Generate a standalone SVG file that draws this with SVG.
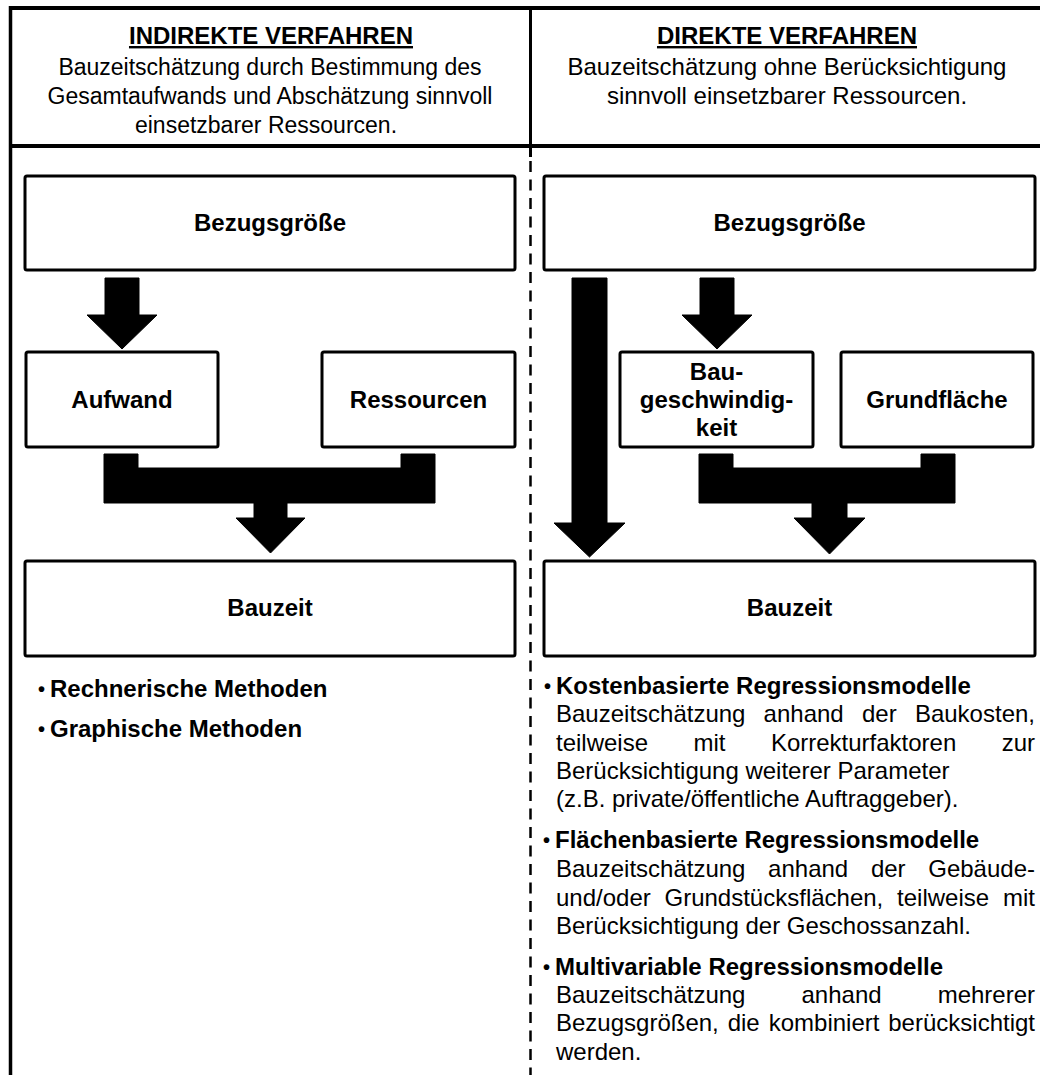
<svg xmlns="http://www.w3.org/2000/svg" width="1040" height="1075" viewBox="0 0 1040 1075">
  <style>
    text { font-family: "Liberation Sans", Arial, sans-serif; fill: #000; }
    .head { font-size: 24px; text-anchor: middle; }
    .head-s { font-size: 23px; text-anchor: middle; }
    .title { font-size: 24px; font-weight: bold; text-anchor: middle; text-decoration: underline; }
    .label { font-size: 24px; font-weight: bold; text-anchor: middle; }
    .dot { font-size: 20px; font-weight: bold; }
    .bullet { font-size: 24px; font-weight: bold; }
    .body { font-size: 24px; }
    .end { text-anchor: end; }
    .box { fill: #fff; stroke: #000; stroke-width: 3; }
    .frame { stroke: #000; fill: none; }
    .flow { fill: #000; stroke: #000; stroke-width: 1; stroke-linejoin: round; }
  </style>

  <!-- outer frame and column dividers -->
  <g id="frame">
    <line class="frame" x1="10" y1="8" x2="1040" y2="8" stroke-width="4"/>
    <line class="frame" x1="10.5" y1="6" x2="10.5" y2="1075" stroke-width="3.5"/>
    <line class="frame" x1="10" y1="146" x2="1040" y2="146" stroke-width="4"/>
    <line class="frame" x1="530.5" y1="8" x2="530.5" y2="157" stroke-width="3"/>
    <line class="frame" x1="530.5" y1="161" x2="530.5" y2="1075" stroke-width="2.5" stroke-dasharray="11 7.5"/>
  </g>

  <!-- column headers -->
  <g id="header-indirect">
    <text class="title" x="271" y="44">INDIREKTE VERFAHREN</text>
    <text class="head-s" x="270" y="75">Bauzeitschätzung durch Bestimmung des</text>
    <text class="head-s" x="270" y="104">Gesamtaufwands und Abschätzung sinnvoll</text>
    <text class="head-s" x="266" y="133">einsetzbarer Ressourcen.</text>
  </g>
  <g id="header-direct">
    <text class="title" x="787" y="44">DIREKTE VERFAHREN</text>
    <text class="head" x="787" y="75">Bauzeitschätzung ohne Berücksichtigung</text>
    <text class="head" x="787" y="104">sinnvoll einsetzbarer Ressourcen.</text>
  </g>

  <!-- left column nodes -->
  <g id="l-bezug">
    <rect class="box" x="25" y="176" width="490" height="94" rx="2"/>
    <text class="label" x="270" y="231">Bezugsgröße</text>
  </g>
  <g id="l-aufwand">
    <rect class="box" x="26" y="352" width="192" height="95" rx="2"/>
    <text class="label" x="122" y="408">Aufwand</text>
  </g>
  <g id="l-ressourcen">
    <rect class="box" x="322" y="352" width="193" height="95" rx="2"/>
    <text class="label" x="418.5" y="408">Ressourcen</text>
  </g>
  <g id="l-bauzeit">
    <rect class="box" x="25" y="561" width="490" height="95" rx="2"/>
    <text class="label" x="270" y="616">Bauzeit</text>
  </g>

  <!-- right column nodes -->
  <g id="r-bezug">
    <rect class="box" x="544" y="176" width="491" height="94" rx="2"/>
    <text class="label" x="789.5" y="231">Bezugsgröße</text>
  </g>
  <g id="r-baugeschwindigkeit">
    <rect class="box" x="620" y="352" width="193" height="95" rx="2"/>
    <text class="label" x="716.5" y="380">Bau-</text>
    <text class="label" x="716.5" y="408">geschwindig-</text>
    <text class="label" x="716.5" y="436">keit</text>
  </g>
  <g id="r-grundflaeche">
    <rect class="box" x="841" y="352" width="192" height="95" rx="2"/>
    <text class="label" x="937" y="408">Grundfläche</text>
  </g>
  <g id="r-bauzeit">
    <rect class="box" x="544" y="561" width="491" height="95" rx="2"/>
    <text class="label" x="789.5" y="616">Bauzeit</text>
  </g>

  <!-- block arrows -->
  <g id="connectors">
    <polygon class="flow" points="105,278 139,278 139,315 157,315 122,349 87,315 105,315"/>
    <path class="flow" d="M104,454 H138 V468 H401 V454 H435 V503 H287 V518 H305 L270.5,553 L236,518 H254 V503 H104 Z"/>
    <polygon class="flow" points="572,278 607,278 607,523 625,523 589.5,557 554,523 572,523"/>
    <polygon class="flow" points="700,278 734,278 734,315 752,315 717,349 682,315 700,315"/>
    <path class="flow" d="M699,454 H733 V468 H921 V454 H955 V503 H847 V518 H865 L829.5,554 L794,518 H812 V503 H699 Z"/>
  </g>

  <!-- left method list -->
  <g id="l-methods">
    <text class="dot" x="38" y="696">•</text>
    <text class="bullet" x="50" y="697">Rechnerische Methoden</text>
    <text class="dot" x="38" y="736">•</text>
    <text class="bullet" x="50" y="737">Graphische Methoden</text>
  </g>

  <!-- right method list -->
  <g id="r-methods">
    <text class="dot" x="544" y="693">•</text>
    <text class="bullet" x="556" y="694">Kostenbasierte Regressionsmodelle</text>
    <text class="body" y="722"><tspan x="556">Bauzeitschätzung</tspan><tspan x="763.6">anhand</tspan><tspan x="862">der</tspan></text>
    <text class="body end" x="1035" y="722">Baukosten,</text>
    <text class="body" y="751"><tspan x="556">teilweise</tspan><tspan x="693.4">mit</tspan><tspan x="770.9">Korrekturfaktoren</tspan></text>
    <text class="body end" x="1035" y="751">zur</text>
    <text class="body" x="556" y="779">Berücksichtigung weiterer Parameter</text>
    <text class="body" x="556" y="807">(z.B. private/öffentliche Auftraggeber).</text>

    <text class="dot" x="543" y="847">•</text>
    <text class="bullet" x="555" y="848">Flächenbasierte Regressionsmodelle</text>
    <text class="body" y="877"><tspan x="556">Bauzeitschätzung</tspan><tspan x="768.1">anhand</tspan><tspan x="870.9">der</tspan></text>
    <text class="body end" x="1035" y="877">Gebäude-</text>
    <text class="body" y="906"><tspan x="556">und/oder</tspan><tspan x="664.5">Grundstücksflächen,</tspan><tspan x="897.1">teilweise</tspan></text>
    <text class="body end" x="1035" y="906">mit</text>
    <text class="body" x="556" y="934">Berücksichtigung der Geschossanzahl.</text>

    <text class="dot" x="543" y="974">•</text>
    <text class="bullet" x="555" y="975">Multivariable Regressionsmodelle</text>
    <text class="body" y="1003"><tspan x="556">Bauzeitschätzung</tspan><tspan x="801.5">anhand</tspan></text>
    <text class="body end" x="1035" y="1003">mehrerer</text>
    <text class="body" y="1031"><tspan x="556">Bezugsgrößen,</tspan><tspan x="727.7">die</tspan><tspan x="768.7">kombiniert</tspan></text>
    <text class="body end" x="1035" y="1031">berücksichtigt</text>
    <text class="body" x="556" y="1060">werden.</text>
  </g>
</svg>
